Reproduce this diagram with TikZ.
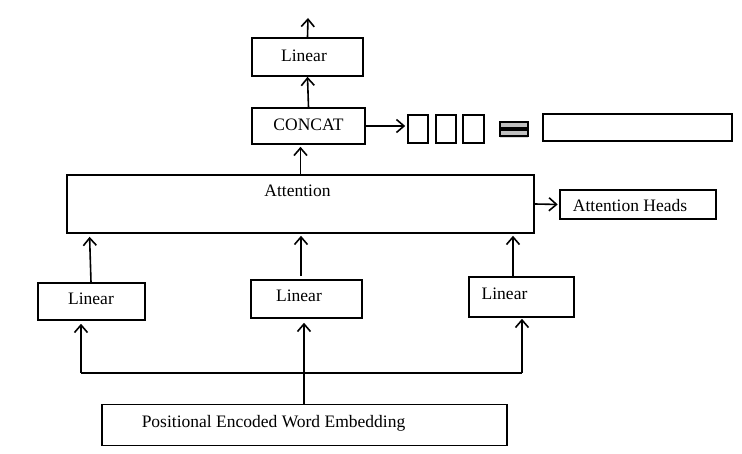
\documentclass[tikz,border=0pt]{standalone}
\usepackage{fontspec}
\setmainfont{Liberation Serif}
\usetikzlibrary{arrows.meta,shadows}

\begin{document}
\begin{tikzpicture}[x=1pt,y=-1pt,line width=1.6pt,
  >={Straight Barb[length=7.5pt,width=13pt,line width=1.6pt]},
  box/.style={draw=black,rectangle,inner sep=0pt},
  txt/.style={font=\fontsize{17.5}{21}\selectfont,inner sep=0pt,anchor=base},
  bar/.style={box,fill=black!25,line width=1.2pt,minimum width=28pt,minimum height=6pt,
    drop shadow={opacity=0.3,shadow xshift=0pt,shadow yshift=-2pt}}]
\useasboundingbox (0,0) rectangle (742,454);

% boxes
\node[box,minimum width=111pt,minimum height=38pt] (lintop) at (307.5,57) {};
\node[box,minimum width=113pt,minimum height=36pt] (concat) at (308.5,126) {};
\node[box,minimum width=467pt,minimum height=58pt] (att) at (300.5,204) {};
\node[box,minimum width=156pt,minimum height=29pt] (heads) at (638,204.5) {};
\node[box,minimum width=107pt,minimum height=37pt] (lin1) at (91.5,301.5) {};
\node[box,minimum width=111pt,minimum height=38pt] (lin2) at (306.5,299) {};
\node[box,minimum width=105pt,minimum height=40pt] (lin3) at (521.5,297) {};
\node[box,minimum width=405pt,minimum height=41pt] (pe) at (304.5,425) {};

% heads
\node[box,minimum width=20pt,minimum height=28pt] (sq1) at (418,129) {};
\node[box,minimum width=20pt,minimum height=28pt] (sq2) at (446,129) {};
\node[box,minimum width=21pt,minimum height=28pt] (sq3) at (473.5,129) {};
\node[bar] (eqa) at (514,125) {};
\node[bar] (eqb) at (514,133) {};
\node[box,minimum width=189pt,minimum height=27pt] (wide) at (637.5,127.5) {};

% texts
\node[txt] (tlintop) at (304,62) {Linear};
\node[txt] (tconcat) at (308.5,131) {CONCAT};
\node[txt] (tatt) at (297.5,197) {Attention};
\node[txt] (theads) at (630,212) {Attention Heads};
\node[txt] (tlin1) at (91,305) {Linear};
\node[txt] (tlin2) at (299,302) {Linear};
\node[txt] (tlin3) at (504.5,300) {Linear};
\node[txt] (tpe) at (273.5,427) {Positional Encoded Word Embedding};

% arrows
\coordinate (out) at (308,18);
\coordinate (jl) at (81,373);
\coordinate (jr) at (522,373);
\draw[->] (lintop.north) -- (out);
\draw[->] (concat.north) -- (lintop.south);
\draw[->,shorten >=2pt] (att.north) -- (att.north |- concat.south);
\draw[->,shorten >=2pt] (concat.east) -- (sq1.west |- concat.east);
\draw[->,shorten >=1.5pt] (att.east) -- (heads.west);
\draw[->,shorten >=3pt] ([xshift=-0.5pt]lin1.north) -- ([xshift=-2pt]lin1.north |- att.south);
\draw[->,shorten >=2pt,shorten <=3pt] ([xshift=-5.5pt]lin2.north) -- ([xshift=-5.5pt]lin2.north |- att.south);
\draw[->,shorten >=2pt] ([xshift=-8.5pt]lin3.north) -- ([xshift=-8.5pt]lin3.north |- att.south);
\draw (jl) -- (jr);
\draw[->,shorten >=4pt] ([xshift=-0.5pt]pe.north) -- ([xshift=-2.5pt]lin2.south);
\draw[->,shorten >=3pt] (jl) -- (jl |- lin1.south);
\draw[->,shorten >=1pt] (jr) -- (jr |- lin3.south);
\end{tikzpicture}
\end{document}
